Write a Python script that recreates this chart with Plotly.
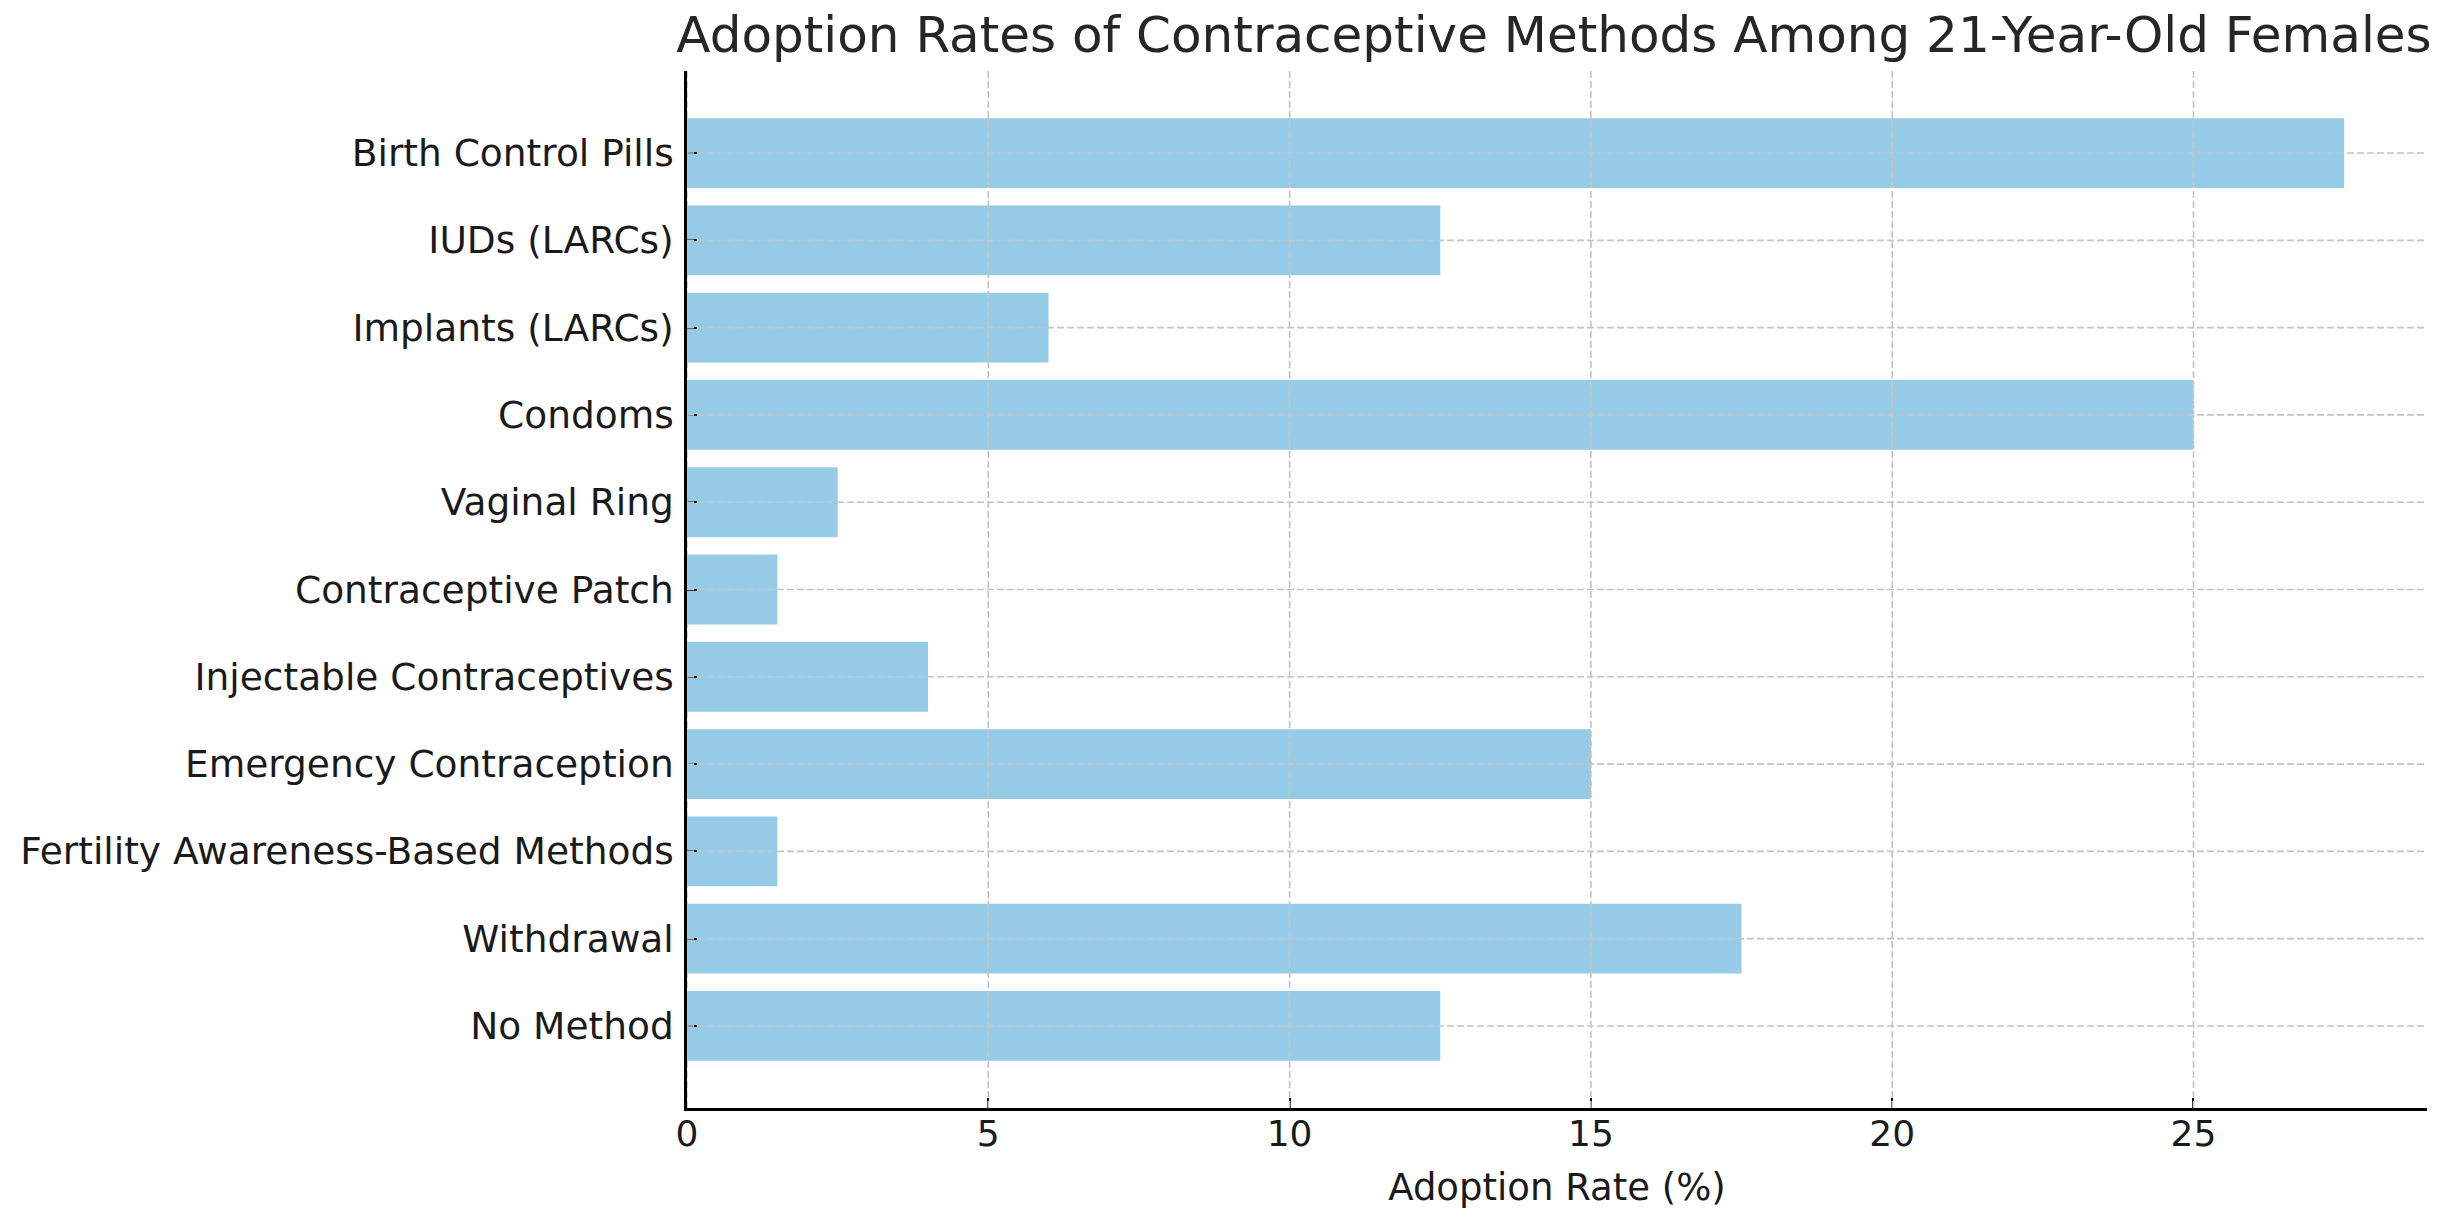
import plotly.graph_objects as go

methods = [
    "Birth Control Pills",
    "IUDs (LARCs)",
    "Implants (LARCs)",
    "Condoms",
    "Vaginal Ring",
    "Contraceptive Patch",
    "Injectable Contraceptives",
    "Emergency Contraception",
    "Fertility Awareness-Based Methods",
    "Withdrawal",
    "No Method",
]
rates = [27.5, 12.5, 6, 25, 2.5, 1.5, 4, 15, 1.5, 17.5, 12.5]
x_ticks = [0, 5, 10, 15, 20, 25]

title_text = "Adoption Rates of Contraceptive Methods Among 21-Year-Old Females"
x_title = "Adoption Rate (%)"

FONT = "DejaVu Sans"
OFF = 8  # browser default body margin
W, H = 2446 - OFF, 1226 - OFF
L, R, T, B = 685 - OFF, 19, 71 - OFF, 118

n = len(methods)
xmax = max(rates) * 1.05
ypad = 0.4 + 0.05 * (n - 1 + 0.8)

fig = go.Figure()
fig.add_trace(go.Bar(
    y=methods, x=rates, orientation="h",
    marker=dict(color="rgb(149,203,230)", line=dict(width=0)),
    width=0.8, hoverinfo="skip",
))

grid_style = dict(color="rgb(196,196,196)", width=1.6, dash="7px,3px")
shapes = []
for v in x_ticks:
    shapes.append(dict(type="line", xref="x", yref="paper", x0=v, x1=v, y0=0, y1=1,
                       line=grid_style, layer="above"))
for m in methods:
    shapes.append(dict(type="line", xref="paper", yref="y", x0=0, x1=1, y0=m, y1=m,
                       line=grid_style, layer="above"))

fig.update_layout(
    width=W, height=H,
    margin=dict(l=L, r=R, t=T, b=B, pad=0),
    paper_bgcolor="white", plot_bgcolor="white",
    showlegend=False,
    font=dict(family=FONT, size=37, color="#1a1a1a"),
    title=dict(text=title_text, font=dict(family=FONT, size=50, color="#262626"),
               x=(1554 - OFF) / W, xanchor="center",
               y=1 - (34 - OFF) / H, yanchor="middle", yref="container"),
    shapes=shapes,
    bargap=0.2,
)
fig.update_xaxes(
    range=[0, xmax], tickvals=x_ticks, ticktext=[str(v) for v in x_ticks],
    showgrid=False, zeroline=False,
    showline=True, linecolor="black", linewidth=2.5,
    ticks="inside", ticklen=10, tickwidth=2, tickcolor="black",
    tickfont=dict(size=36, color="#1a1a1a"),
    ticklabelstandoff=-8,
    title=dict(text=x_title, font=dict(size=37, color="#1a1a1a"), standoff=22),
    layer="above traces",
)
fig.update_yaxes(
    type="category", categoryorder="array", categoryarray=methods,
    range=[n - 1 + ypad, -ypad],
    showgrid=False, zeroline=False,
    showline=True, linecolor="black", linewidth=2.5,
    ticks="inside", ticklen=10, tickwidth=2, tickcolor="black",
    tickfont=dict(size=37.5, color="#1a1a1a"),
    ticklabelstandoff=3,
    layer="above traces",
)

fig.write_html("out.html")
